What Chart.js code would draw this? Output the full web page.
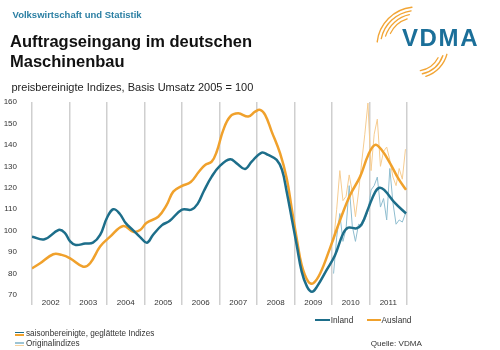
<!DOCTYPE html>
<html>
<head>
<meta charset="utf-8">
<script src="https://cdn.jsdelivr.net/npm/chart.js@4.4.1/dist/chart.umd.min.js"></script>
<style>
  html, body { margin:0; padding:0; background:#fff; }
  body { width:500px; height:350px; position:relative; overflow:hidden; font-family:"Liberation Sans", Arial, sans-serif; }
  #c { position:absolute; left:0; top:0; }
  .t { position:absolute; white-space:nowrap; line-height:1; }
  .ln { position:absolute; height:2px; }
</style>
</head>
<body>
<canvas id="c" width="500" height="350"></canvas>

<div class="t" style="left:12.5px; top:10.3px; font-size:9.5px; font-weight:bold; color:#2b7fa3;">Volkswirtschaft und Statistik</div>
<div class="t" style="left:10px; top:31.3px; font-size:16.5px; line-height:20px; font-weight:bold; color:#111;">Auftragseingang im deutschen<br>Maschinenbau</div>
<div class="t" style="left:11.5px; top:81.7px; font-size:11px; color:#222;">preisbereinigte Indizes, Basis Umsatz 2005 = 100</div>

<svg style="position:absolute;left:0;top:0" width="500" height="90" id="logo"></svg>
<div class="t" style="left:402px; top:26px; font-size:24px; font-weight:bold; color:#1b6f99; letter-spacing:1.6px;">VDMA</div>

<div class="ln" style="left:315px; top:319px; width:15px; background:#1d6e8a;"></div>
<div class="t" style="left:330.7px; top:316px; font-size:8.3px; color:#333;">Inland</div>
<div class="ln" style="left:367px; top:319px; width:14px; background:#f0a12c;"></div>
<div class="t" style="left:381.5px; top:316px; font-size:8.3px; color:#333;">Ausland</div>

<div class="ln" style="left:15px; top:331.5px; width:9px; height:1.6px; background:#1d6e8a;"></div>
<div class="ln" style="left:15px; top:334px; width:9px; height:1.6px; background:#f0a12c;"></div>
<div class="t" style="left:26px; top:330px; font-size:8.2px; color:#333;">saisonbereinigte, geglättete Indizes</div>
<div class="ln" style="left:15px; top:342.3px; width:9px; height:1.4px; background:#9cc4d4;"></div>
<div class="ln" style="left:15px; top:344.5px; width:9px; height:1.4px; background:#f6d29e;"></div>
<div class="t" style="left:26px; top:340.3px; font-size:8.2px; color:#333;">Originalindizes</div>
<div class="t" style="left:370.7px; top:339.5px; font-size:8.1px; color:#333;">Quelle: VDMA</div>

<script>
// ---- data (months counted from Jan 2002 = 0) ----
const years = ['2002','2003','2004','2005','2006','2007','2008','2009','2010','2011'];
const yTicks = [70,80,90,100,110,120,130,140,150,160];

const inlandMonths = [0,4,8.5,10.5,12.2,14,17,19.5,21.8,24,26,28,30,32.3,34.6,36.8,38.7,41.6,44,48,51,53,55,57.5,60.2,63.4,65.5,68.2,70.3,73.5,75.6,78.3,80,81.5,83.1,84.7,86.3,88,89.6,91.2,94.3,97,99.6,101.2,103.9,105.5,107.6,109.8,111.2,112.7,116.2,119.7];
const inlandValues = [97.2,96,100.3,99,95,93.3,94,94.4,98,106,110,108,103.5,100.3,97,94.4,98,102.6,104.5,109.8,109.8,112.5,118.5,125.2,130.3,133.3,131.4,128.8,132.2,136.4,135.3,133,128.3,118.2,105.8,93.3,80.9,73.9,71.5,73.9,81.7,88.7,98.8,101.4,101.1,103,110.4,118,120,119,112.8,108];

const auslandMonths = [0,2.6,6.8,9.5,12.2,16.4,18.6,21.8,25,29.2,32.4,34.6,36.7,40.4,43.1,45.2,47.9,50.8,53.4,55.4,57.5,59.1,61.2,63.4,66,69.2,71.4,73,74.6,76.7,79.4,81.5,83.1,84.7,86.3,88.4,90,92.2,95.4,98.6,101.8,105,107.6,109.8,111.9,114.6,117.2,119.7];
const auslandValues = [82.4,84.8,89,88.7,87.1,83.2,84.8,92.6,97.2,102.2,99.5,100.3,103.7,106.5,112,118.2,120.8,122.7,127.5,130.6,132.2,136.8,146.9,153.2,154.7,153.2,155.5,156.3,154,146.2,136,124.4,110.4,96.4,84,76.2,75.5,80,92,105,116.6,125.2,135.3,140,137.6,131.4,124.4,119];

const origMonths = [96,97,98,99,100,101,102,103,104,105,106,107,108,109,110,111,112,113,114,115,116,117,118,119];
const origInland = [80,97,108,95,101,121,102,95,103,102,105,109,119,121,125,111,115,105,129,113,103,105,104,108];
const origAusland = [95,110,128,114,116,126,118,106.5,118,132,145,159.5,128,145,152,130,137,139,133,125,121,129,124,138];

// ---- styles ----
const COL = { inland:'#1d6e8a', ausland:'#f0a12c', inlandO:'#8fbdcf', auslandO:'#f6cc90', grid:'#cfcfcf', text:'#333' };
const FAM = '"Liberation Sans", Arial, sans-serif';

const pts = (xs, ys, off) => xs.map((m, i) => ({ x: m + off, y: ys[i] }));

new Chart(document.getElementById('c'), {
  type: 'line',
  data: {
    datasets: [
      { label:'Inland', data: pts(inlandMonths, inlandValues, 0), borderColor: COL.inland, borderWidth: 2.5, pointRadius: 0, tension: 0.4, order: 0 },
      { label:'Ausland', data: pts(auslandMonths, auslandValues, 0), borderColor: COL.ausland, borderWidth: 2.5, pointRadius: 0, tension: 0.4, order: 1 },
      { label:'Inland Original', data: pts(origMonths, origInland, 0.5), borderColor: COL.inlandO, borderWidth: 1, pointRadius: 0, tension: 0, order: 2 },
      { label:'Ausland Original', data: pts(origMonths, origAusland, 0.5), borderColor: COL.auslandO, borderWidth: 1, pointRadius: 0, tension: 0, order: 3 }
    ]
  },
  options: {
    responsive: false,
    animation: false,
    events: [],
    layout: { padding: { left: 0, top: 102, right: 93, bottom: 40 } },
    plugins: { legend: { display: false }, tooltip: { enabled: false } },
    scales: {
      x: { type: 'linear', min: 0, max: 120, display: false },
      xc: {
        type: 'category', labels: years, position: 'bottom', offset: true,
        grid: { offset: true, color: COL.grid, lineWidth: 1.5, tickLength: 10, drawTicks: true },
        border: { display: false },
        ticks: { font: { size: 8, family: FAM }, color: COL.text, padding: -7, maxRotation: 0, autoSkip: false },
        afterFit(s) { s.height = 15; }
      },
      y: {
        min: 70, max: 160, position: 'left',
        grid: { display: false }, border: { display: false },
        ticks: { font: { size: 8, family: FAM }, color: COL.text, padding: 7 },
        afterBuildTicks(s) { s.ticks = yTicks.map(v => ({ value: v })); },
        afterFit(s) { s.width = 32; }
      }
    }
  }
});

// ---- logo arcs ----
(function(){
  const svg = document.getElementById('logo');
  const cx = 416, cy = 46;
  function arc(r, a0, a1, w) {
    const p0 = [cx + r*Math.cos(a0*Math.PI/180), cy + r*Math.sin(a0*Math.PI/180)];
    const p1 = [cx + r*Math.cos(a1*Math.PI/180), cy + r*Math.sin(a1*Math.PI/180)];
    const large = Math.abs(a1 - a0) > 180 ? 1 : 0;
    const path = document.createElementNS('http://www.w3.org/2000/svg','path');
    path.setAttribute('d', `M${p0[0]},${p0[1]} A${r},${r} 0 ${large} 1 ${p1[0]},${p1[1]}`);
    path.setAttribute('fill','none');
    path.setAttribute('stroke','#f2a535');
    path.setAttribute('stroke-width', w);
    path.setAttribute('stroke-linecap','round');
    svg.appendChild(path);
  }
  arc(39, 186, 264, 1.4);
  arc(35.5, 192, 262, 1.4);
  arc(32, 198, 258, 1.3);
  arc(28.5, 206, 252, 1.2);
  arc(25, 28, 80, 1.3);
  arc(28.5, 20, 77, 1.4);
  arc(32, 15, 72, 1.3);
})();
</script>
</body>
</html>
